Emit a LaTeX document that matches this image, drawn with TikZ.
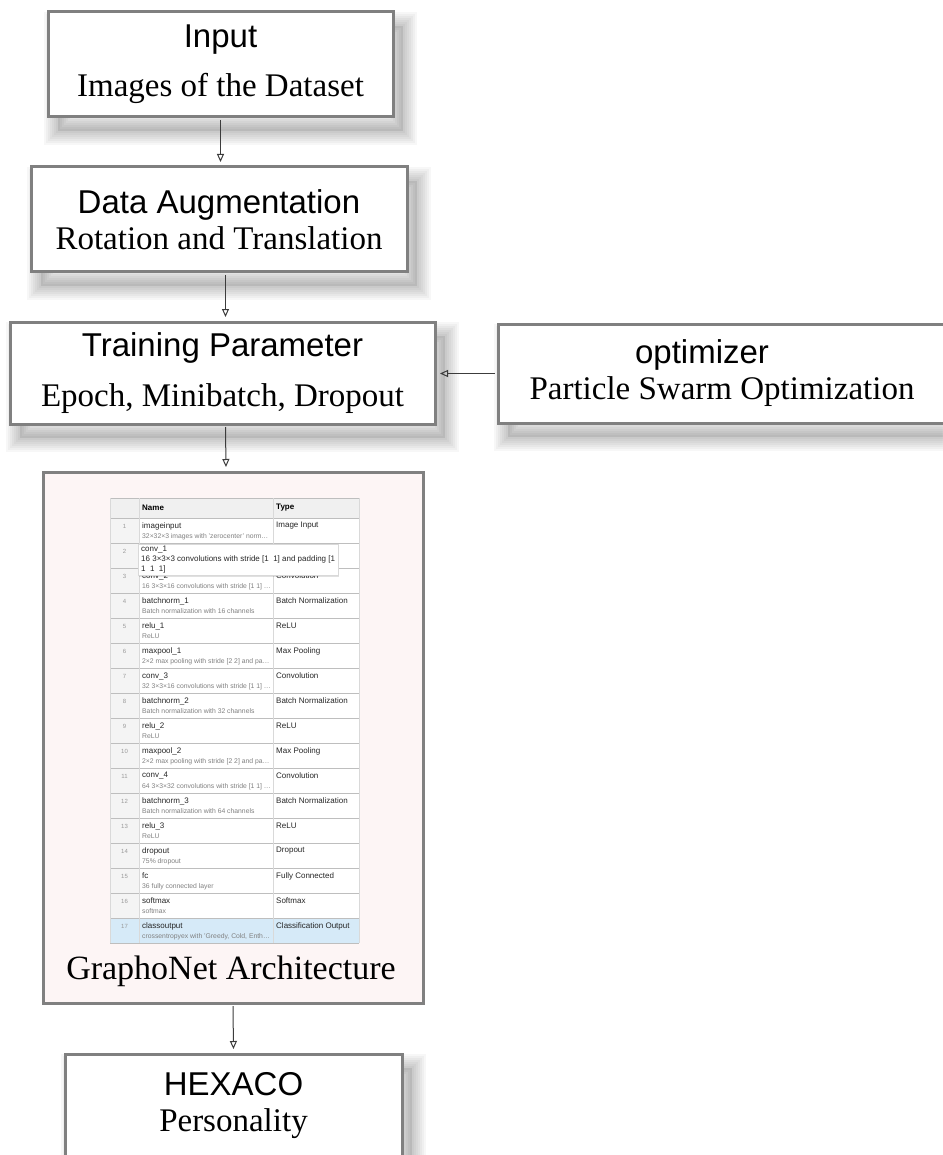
\documentclass[tikz,border=0pt]{standalone}
\usepackage{fontspec}
\setmainfont{Liberation Serif}
\setsansfont{Liberation Sans}
\usetikzlibrary{arrows.meta}

\begin{document}
\begin{tikzpicture}[x=1pt,y=-1pt,
    shadelayer/.style={preaction={draw=black,line width=#1,opacity=.03,
      transform canvas={shift={(10pt,-14pt)}}}},
    softshade/.style={
      preaction={fill=black,opacity=.08,transform canvas={shift={(10pt,-14pt)}}},
      shadelayer=4pt,shadelayer=8pt,shadelayer=12pt,shadelayer=16pt,
      shadelayer=20pt,shadelayer=24pt,shadelayer=28pt},
    stagebox/.style={draw=boxgray,line width=3pt,fill=white,align=center,inner sep=0pt,
      font=\fontsize{33}{36}\selectfont},
    flowarrow/.style={draw=arrowgray,line width=1pt,-{Triangle[open,length=8pt,width=7pt]},
      shorten <=1.5pt,shorten >=3.5pt},
    gridline/.style={draw=gridgray,line width=.8pt},
    cellhead/.style={anchor=west,inner sep=0pt,font=\sffamily\bfseries\fontsize{8}{9}\selectfont},
    cellname/.style={anchor=west,inner sep=0pt,font=\sffamily\fontsize{8}{9}\selectfont,text=black!85},
    cellsub/.style={anchor=west,inner sep=0pt,font=\sffamily\fontsize{6.8}{8}\selectfont,text=black!50},
    cellidx/.style={inner sep=0pt,font=\sffamily\fontsize{6}{7}\selectfont,text=black!40},
    tipbox/.style={anchor=north west,draw=black!15,fill=white,align=left,inner xsep=3pt,inner ysep=2pt,
      font=\sffamily\fontsize{8}{10}\selectfont,text=black!85,
      preaction={fill=black,opacity=.12,transform canvas={shift={(1pt,-2pt)}}}}]

        % Define colors
        \definecolor{boxgray}{RGB}{128,128,128}
        \definecolor{arrowgray}{RGB}{60,60,60}
        \definecolor{pinkfill}{RGB}{253,245,245}
        \definecolor{gridgray}{RGB}{190,190,190}
        \definecolor{hdrfill}{RGB}{240,240,240}
        \definecolor{idxfill}{RGB}{244,244,244}
        \definecolor{selfill}{RGB}{214,234,248}

        % Page
        \path[use as bounding box,fill=white] (0,0) rectangle (942,1155);

        % Stages of the pipeline
        \node[stagebox,softshade,minimum width=345pt,minimum height=105pt] (input) at (220.5,64.5)
          {{\sffamily Input}\\[13pt]Images of the Dataset};
        \node[stagebox,softshade,minimum width=376pt,minimum height=105pt] (augment) at (219,219.5)
          {{\sffamily Data Augmentation}\\Rotation and Translation};
        \node[stagebox,softshade,minimum width=425pt,minimum height=102pt] (training) at (222.5,373)
          {{\sffamily Training Parameter}\\[14pt]Epoch, Minibatch, Dropout};
        \node[stagebox,softshade,minimum width=448pt,minimum height=99pt] (optimizer) at (722,373.5)
          {{\sffamily optimizer}\hspace*{40pt}\\Particle Swarm Optimization};
        \node[stagebox,fill=pinkfill,minimum width=380pt,minimum height=531pt] (graphonet) at (233,737.5) {};
        \node[stagebox,softshade,minimum width=337pt,minimum height=104pt] (hexaco) at (233.5,1106)
          {{\sffamily HEXACO}\\Personality};

        % Layer table of the network
        \fill[hdrfill] (110,498) rectangle (359,518);
        \fill[white] (139,518) rectangle (359,943);
        \fill[idxfill] (110,518) rectangle (139,943);
        \fill[selfill] (110,918) rectangle (359,943);
        \draw[gridline] (110,498) -- (359,498);
        \foreach \k in {0,...,17}
          \draw[gridline] (110,{518+25*\k}) -- (359,{518+25*\k});
        \foreach \xc in {110,139,273,359}
          \draw[gridline,draw=black!15] (\xc,498) -- (\xc,943);
        \node[cellhead] (head-name) at (142,508) {Name};
        \node[cellhead] (head-type) at (276,508) {Type};
        \foreach \i/\nm/\sub/\typ in {
            1/imageinput/{32×32×3 images with 'zerocenter' norm\ldots}/Image Input,
            2/{}/{}/{},
            3/conv\_2/{16 3×3×16 convolutions with stride [1 1] \ldots}/Convolution,
            4/batchnorm\_1/{Batch normalization with 16 channels}/Batch Normalization,
            5/relu\_1/ReLU/ReLU,
            6/maxpool\_1/{2×2 max pooling with stride [2 2] and pa\ldots}/Max Pooling,
            7/conv\_3/{32 3×3×16 convolutions with stride [1 1] \ldots}/Convolution,
            8/batchnorm\_2/{Batch normalization with 32 channels}/Batch Normalization,
            9/relu\_2/ReLU/ReLU,
            10/maxpool\_2/{2×2 max pooling with stride [2 2] and pa\ldots}/Max Pooling,
            11/conv\_4/{64 3×3×32 convolutions with stride [1 1] \ldots}/Convolution,
            12/batchnorm\_3/{Batch normalization with 64 channels}/Batch Normalization,
            13/relu\_3/ReLU/ReLU,
            14/dropout/{75\% dropout}/Dropout,
            15/fc/{36 fully connected layer}/Fully Connected,
            16/softmax/softmax/Softmax,
            17/classoutput/{crossentropyex with 'Greedy, Cold, Enth\ldots}/Classification Output}{
          \pgfmathsetmacro{\yr}{518+25*(\i-1)}
          \node[cellidx] (idx-\i) at (124.5,{\yr+8}) {\i};
          \node[cellname] (name-\i) at (142,{\yr+8}) {\nm};
          \node[cellsub] (sub-\i) at (142,{\yr+18.5}) {\sub};
          \node[cellname] (type-\i) at (276,{\yr+8}) {\typ};
        }
        % Tooltip over the second row
        \node[tipbox] (tip) at (138,544)
          {conv\_1\\16 3×3×3 convolutions with stride [1\ \ 1] and padding [1\\1\ \ 1\ \ 1]};
        \node[anchor=base,inner sep=0pt,font=\fontsize{34}{36}\selectfont] (archtitle) at (231,979)
          {GraphoNet Architecture};

        % Connectors
        \draw[flowarrow] (input.south) -- (input.south |- augment.north);
        \draw[flowarrow] ([xshift=6.5pt]augment.south) -- ([xshift=3pt]training.north);
        \draw[flowarrow] (optimizer.west) -- (optimizer.west -| training.east);
        \draw[flowarrow] ([xshift=3pt]training.south) -- ([xshift=-7pt]graphonet.north);
        \draw[flowarrow] (graphonet.south) -- (hexaco.north);
\end{tikzpicture}
\end{document}
